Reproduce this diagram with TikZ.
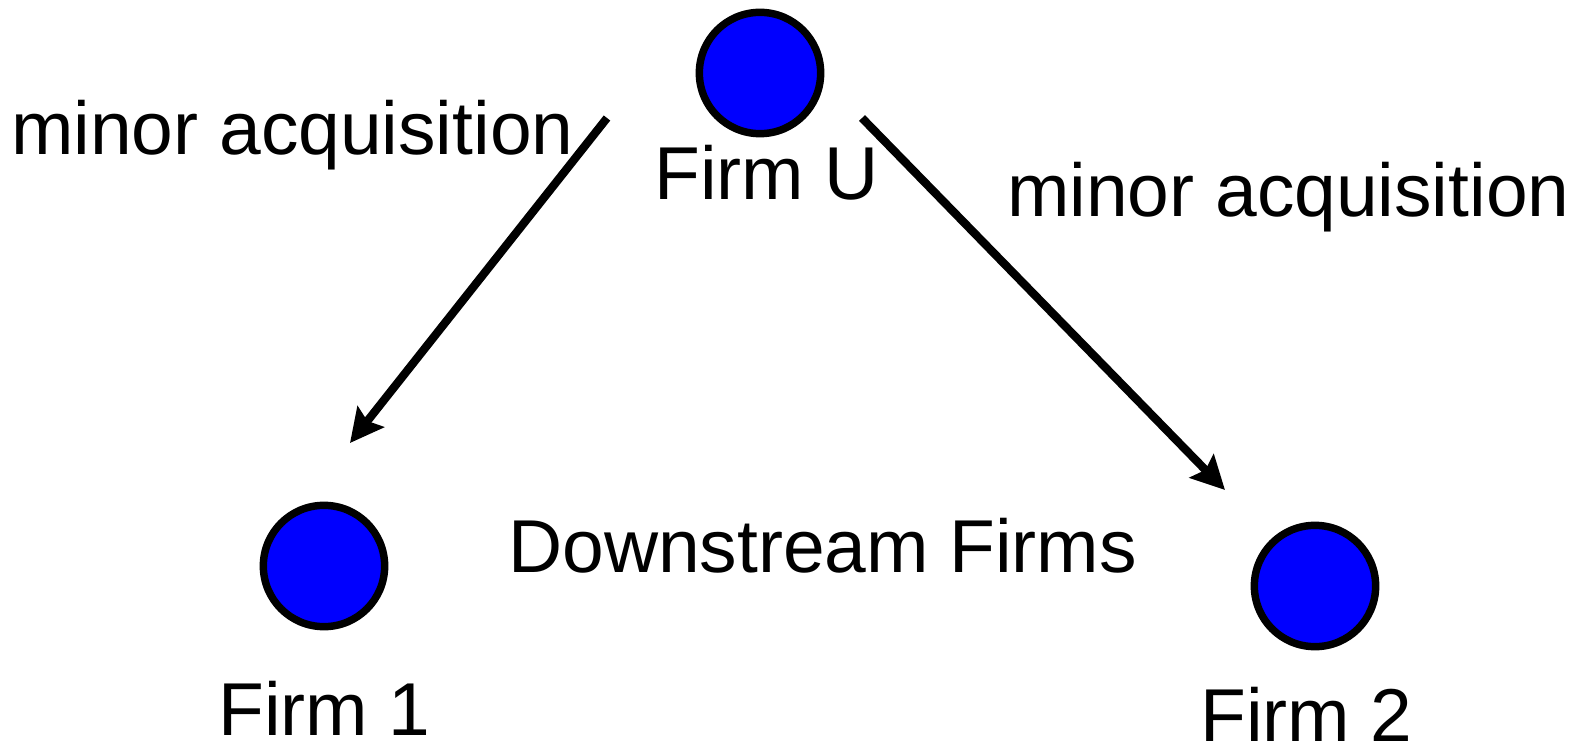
\documentclass[tikz,border=0pt]{standalone}
\usepackage{fontspec}
\setmainfont{Liberation Sans}
\usetikzlibrary{arrows.meta}
\begin{document}
\begin{tikzpicture}[x=0.75pt,y=-0.75pt,
  firm/.style={circle,draw=black,line width=5.6pt,fill={rgb,255:red,0;green,0;blue,255},
               minimum size=91pt,inner sep=0pt},
  lbl/.style={anchor=base west,inner sep=0pt,font=\fontsize{56.2}{60}\selectfont},
  acq/.style={line width=6.2pt,-{Stealth[length=25pt,width=25pt,inset=4pt]}}]
\useasboundingbox (0,0) rectangle (1573,748);
% firms
\node[firm] (U) at (760,73) {};
\node[firm] (F1) at (324,566) {};
\node[firm] (F2) at (1315,586) {};
% labels
\node[lbl] (lU) at (654,200) {Firm U};
\node[lbl] (l1) at (218,735) {Firm 1};
\node[lbl] (l2) at (1200,741) {Firm 2};
\node[lbl] (ld) at (508,572) {Downstream Firms};
\node[lbl] (la) at (11,155) {minor acquisition};
\node[lbl] (lb) at (1007,217) {minor acquisition};
% acquisition arrows
\coordinate (a1s) at (607,118);
\coordinate (a1e) at (350,443);
\coordinate (a2s) at (862,118);
\coordinate (a2e) at (1225,490);
\draw[acq] (a1s) -- (a1e);
\draw[acq] (a2s) -- (a2e);
\end{tikzpicture}
\end{document}
